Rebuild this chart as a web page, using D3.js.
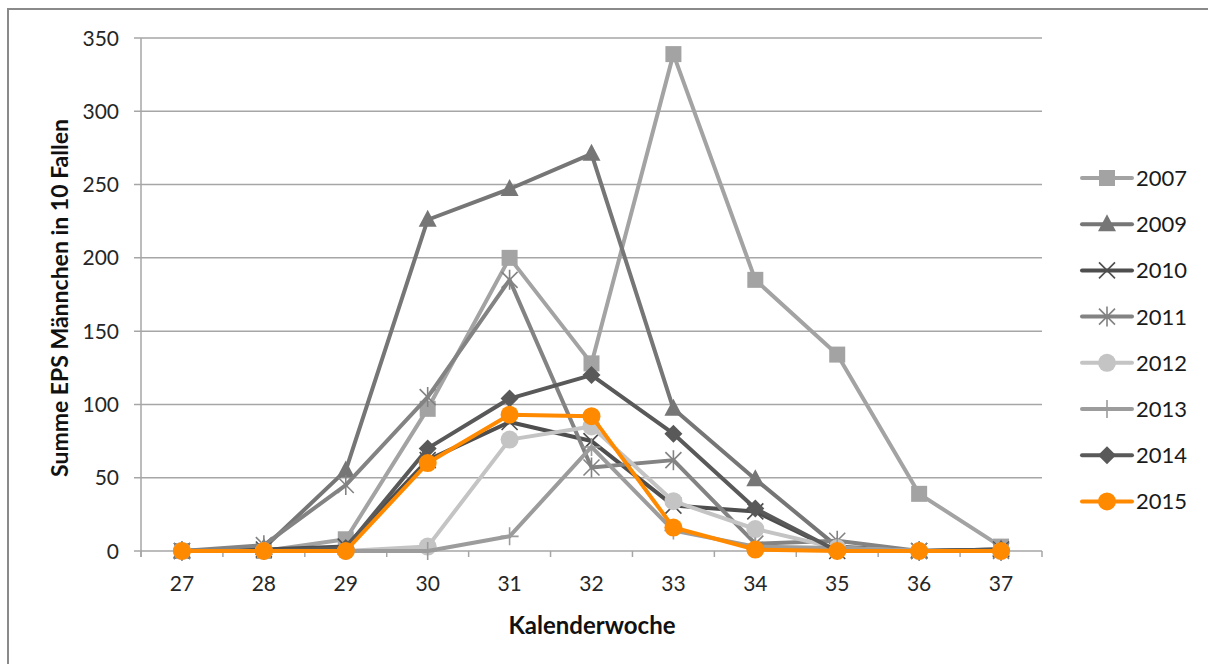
<!DOCTYPE html>
<html>
<head>
<meta charset="utf-8">
<script src="https://cdn.jsdelivr.net/npm/d3@7"></script>
<style>
  html, body { margin: 0; padding: 0; background: #fff; }
  svg { display: block; }
  text { font-family: Lato, "Open Sans", sans-serif; }
</style>
</head>
<body>
<svg id="chart" width="1208" height="664"></svg>
<script>
const weeks = [27, 28, 29, 30, 31, 32, 33, 34, 35, 36, 37];
const yTicks = [0, 50, 100, 150, 200, 250, 300, 350];
const seriesNames = ["2007", "2009", "2010", "2011", "2012", "2013", "2014", "2015"];
const v2007 = [0, 0, 8, 97, 200, 128, 339, 185, 134, 39, 3];
const v2009 = [0, 2, 55, 226, 247, 271, 97, 49, 3, 0, 1];
const v2010 = [0, 1, 3, 62, 88, 75, 31, 27, 0, 0, 1];
const v2011 = [0, 4, 45, 105, 185, 57, 62, 5, 7, 0, 0];
const v2012 = [0, 0, 0, 3, 76, 85, 34, 15, 2, 0, 0];
const v2013 = [0, 0, 0, 0, 10, 71, 14, 3, 2, 0, 0];
const v2014 = [0, 0, 2, 70, 104, 120, 80, 29, 0, 0, 1];
const v2015 = [0, 0, 0, 60, 93, 92, 16, 1, 0, 0, 0];
const seriesValues = [v2007, v2009, v2010, v2011, v2012, v2013, v2014, v2015];
const seriesColors = ["#a3a3a3", "#767676", "#4e4e4e", "#838383", "#c4c4c4", "#9c9c9c", "#595959", "#ff8a00"];
const seriesMarkers = ["square", "triangle", "x", "asterisk", "circle", "plus", "diamond", "circle"];

const svg = d3.select("#chart");

// outer border
svg.append("rect").attr("x", 8).attr("y", 9).attr("width", 1220).attr("height", 680)
  .attr("fill", "none").attr("stroke", "#8a8a8a").attr("stroke-width", 2);

const x = d3.scaleBand().domain(weeks).range([141, 1042]).paddingInner(0).paddingOuter(0);
const y = d3.scaleLinear().domain([0, 350]).range([551, 38]);
const cx = w => x(w) + x.bandwidth() / 2;

// gridlines
svg.append("g").selectAll("line").data(yTicks).join("line")
  .attr("x1", 134).attr("x2", 1042)
  .attr("y1", d => y(d)).attr("y2", d => y(d))
  .attr("stroke", "#a6a6a6").attr("stroke-width", 1.5);

// y axis line
svg.append("line").attr("x1", 141).attr("x2", 141).attr("y1", y(350)).attr("y2", y(0) + 6)
  .attr("stroke", "#a6a6a6").attr("stroke-width", 1.5);

// x ticks at band boundaries
const bounds = weeks.map(w => x(w)).concat([x(weeks[weeks.length - 1]) + x.bandwidth()]);
svg.append("g").selectAll("line").data(bounds).join("line")
  .attr("x1", d => d).attr("x2", d => d)
  .attr("y1", y(0)).attr("y2", y(0) + 6)
  .attr("stroke", "#a6a6a6").attr("stroke-width", 1.5);

// y tick labels
svg.append("g").selectAll("text").data(yTicks).join("text")
  .attr("x", 119).attr("y", d => y(d)).attr("dy", "0.36em")
  .attr("text-anchor", "end").attr("font-size", 21).attr("fill", "#262626")
  .text(d => d);

// x tick labels
svg.append("g").selectAll("text").data(weeks).join("text")
  .attr("x", d => cx(d)).attr("y", 583).attr("dy", "0.36em")
  .attr("text-anchor", "middle").attr("font-size", 21).attr("fill", "#262626")
  .text(d => d);

// axis titles
svg.append("text").attr("x", 592).attr("y", 625).attr("dy", "0.36em")
  .attr("text-anchor", "middle").attr("font-size", 24).attr("font-weight", "bold").attr("fill", "#111")
  .text("Kalenderwoche");
svg.append("text").attr("transform", "translate(60,298) rotate(-90)").attr("dy", "0.36em")
  .attr("text-anchor", "middle").attr("font-size", 23).attr("font-weight", "bold").attr("fill", "#111")
  .text("Summe EPS Männchen in 10 Fallen");

function drawMarker(g, type, color) {
  if (type === "square") {
    g.append("rect").attr("x", -8).attr("y", -8).attr("width", 16).attr("height", 16).attr("fill", color);
  } else if (type === "triangle") {
    g.append("path").attr("d", "M0,-10L9,7L-9,7Z").attr("fill", color);
  } else if (type === "diamond") {
    g.append("path").attr("d", "M0,-9L9,0L0,9L-9,0Z").attr("fill", color);
  } else if (type === "circle") {
    g.append("circle").attr("r", 9).attr("fill", color);
  } else if (type === "x") {
    g.append("path").attr("d", "M-8,-8L8,8M-8,8L8,-8").attr("stroke", color).attr("stroke-width", 1.6).attr("fill", "none");
  } else if (type === "asterisk") {
    g.append("path").attr("d", "M-8,-8L8,8M-8,8L8,-8M0,-10L0,10").attr("stroke", color).attr("stroke-width", 1.6).attr("fill", "none");
  } else if (type === "plus") {
    g.append("path").attr("d", "M-9,0L9,0M0,-9L0,9").attr("stroke", color).attr("stroke-width", 1.6).attr("fill", "none");
  }
}

const line = d3.line().x((d, i) => cx(weeks[i])).y(d => y(d));

seriesNames.forEach((name, si) => {
  const vals = seriesValues[si];
  const color = seriesColors[si];
  const g = svg.append("g");
  g.append("path").attr("d", line(vals)).attr("fill", "none")
    .attr("stroke", color).attr("stroke-width", 4).attr("stroke-linejoin", "round").attr("stroke-linecap", "round");
  vals.forEach((v, i) => {
    const mg = g.append("g").attr("transform", `translate(${cx(weeks[i])},${y(v)})`);
    drawMarker(mg, seriesMarkers[si], color);
  });
});

// legend
const legendY0 = 178, legendStep = 46.2;
seriesNames.forEach((name, si) => {
  const ly = legendY0 + si * legendStep;
  const color = seriesColors[si];
  const g = svg.append("g");
  g.append("line").attr("x1", 1082).attr("x2", 1132).attr("y1", ly).attr("y2", ly)
    .attr("stroke", color).attr("stroke-width", 4).attr("stroke-linecap", "round");
  const mg = g.append("g").attr("transform", `translate(1107,${ly})`);
  drawMarker(mg, seriesMarkers[si], color);
  g.append("text").attr("x", 1136).attr("y", ly).attr("dy", "0.36em")
    .attr("font-size", 22).attr("fill", "#1a1a1a").text(name);
});
</script>
</body>
</html>
